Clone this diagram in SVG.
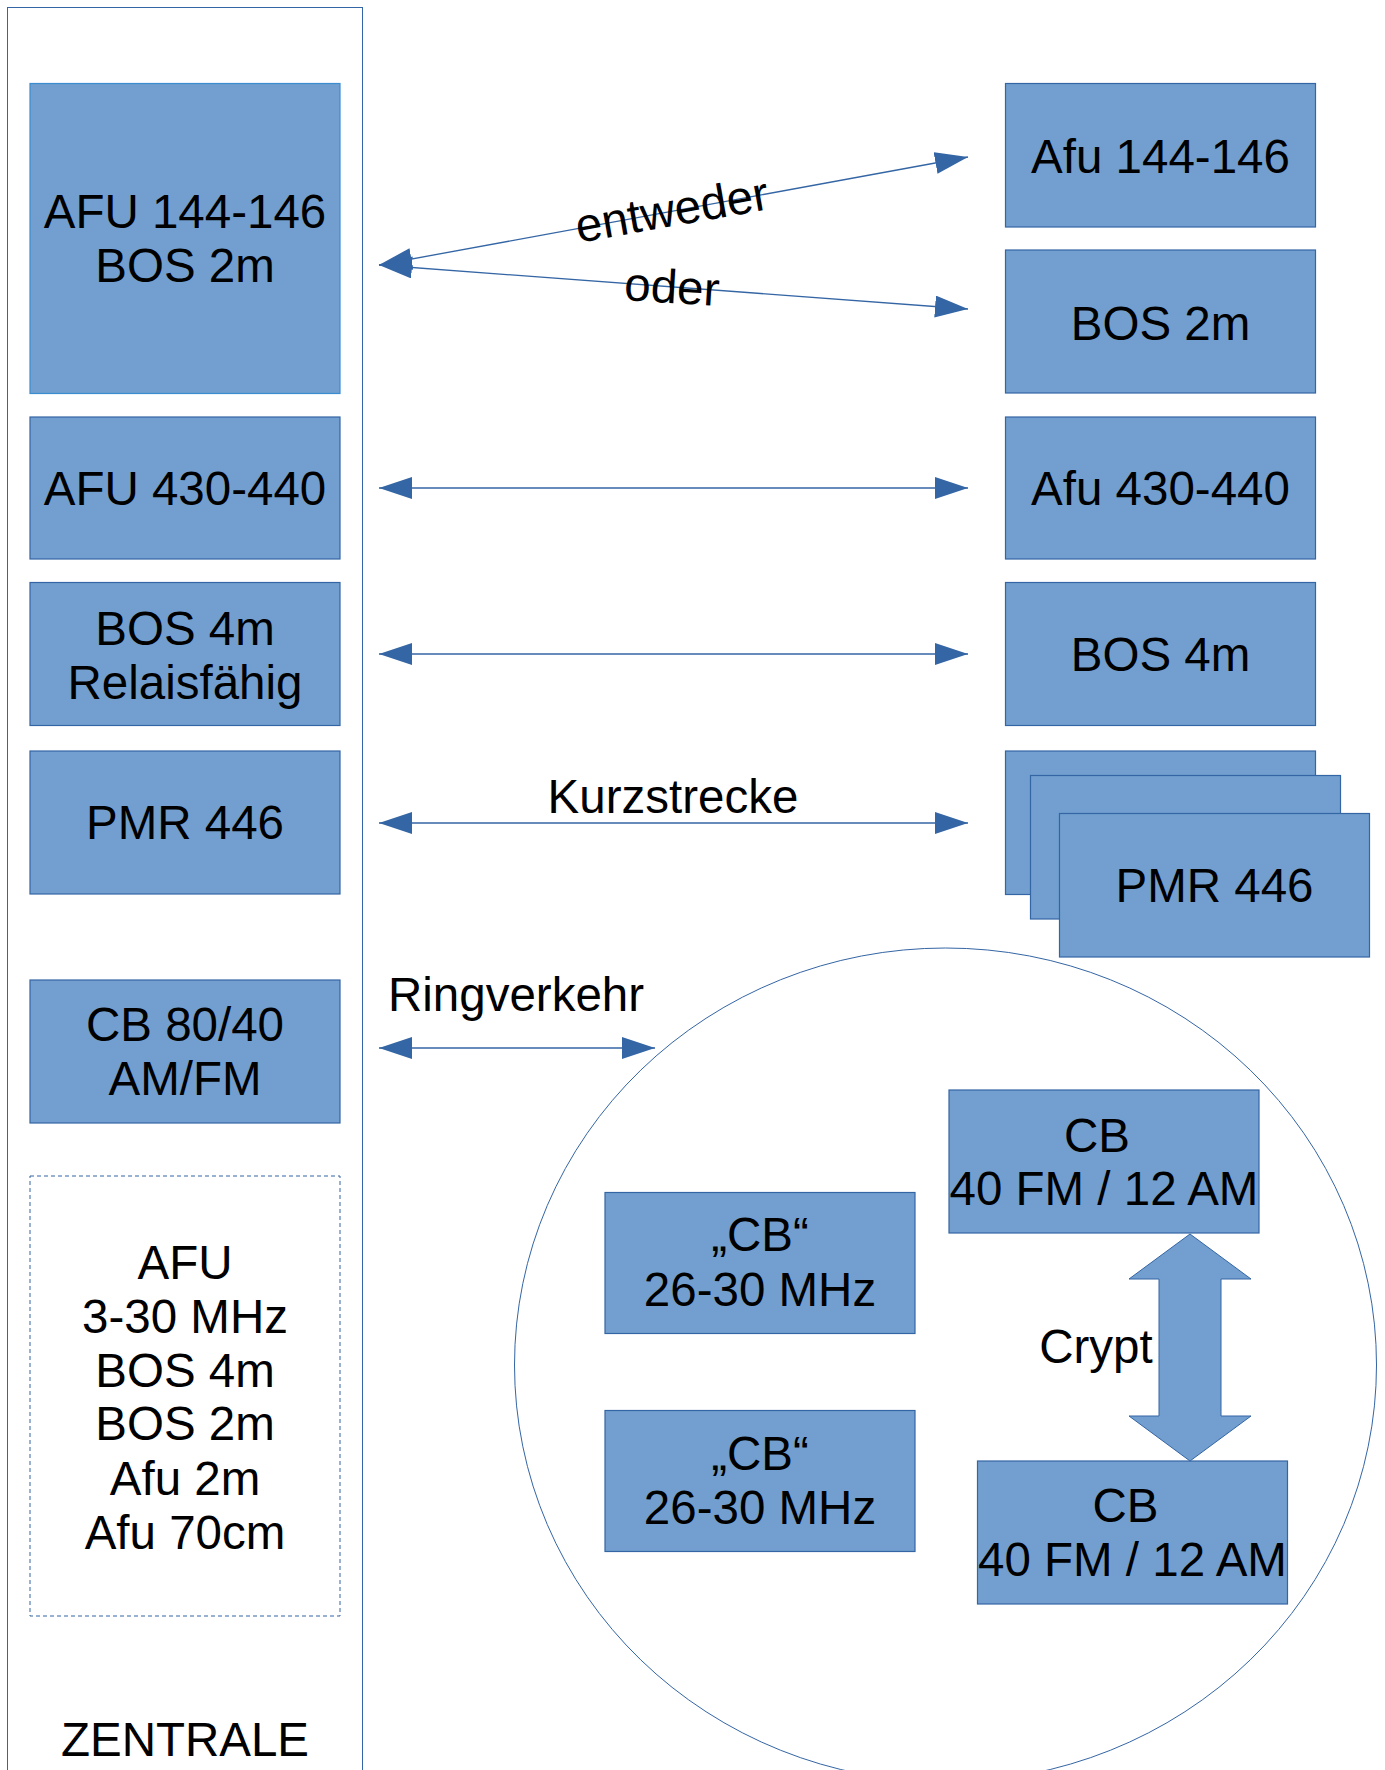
<svg xmlns="http://www.w3.org/2000/svg" width="1385" height="1770" viewBox="0 0 1385 1770">
<style>
.box{fill:#729fcf;stroke:#3465a4;stroke-width:1.2}
.t{font-family:"Liberation Sans",Arial,sans-serif;font-size:47.5px;fill:#000;text-anchor:middle}
.c{stroke:#3465a4;stroke-width:1.3;fill:none}
.frame{fill:none;stroke:#3465a4;stroke-width:1}
</style>
<defs>
<marker id="ah" markerUnits="userSpaceOnUse" markerWidth="34" markerHeight="24" refX="33" refY="11" orient="auto-start-reverse">
<path d="M0,0 L33,11 L0,22 z" fill="#3465a4"/>
</marker>
</defs>
<rect width="1385" height="1770" fill="#fff"/>

<g id="zentrale">
<rect class="frame" x="7.5" y="7.5" width="355" height="1790"/>
<text class="t" x="185" y="1756">ZENTRALE</text>
</g>

<g id="l-afu144">
<rect class="box" x="30" y="83.5" width="310" height="310" style="stroke:#3c8dd0"/>
<text class="t" x="185" y="228">AFU 144-146</text>
<text class="t" x="185" y="282">BOS 2m</text>
</g>
<g id="l-afu430">
<rect class="box" x="30" y="417" width="310" height="142"/>
<text class="t" x="185" y="505">AFU 430-440</text>
</g>
<g id="l-bos4m">
<rect class="box" x="30" y="582.5" width="310" height="143"/>
<text class="t" x="185" y="645">BOS 4m</text>
<text class="t" x="185" y="699">Relaisfähig</text>
</g>
<g id="l-pmr">
<rect class="box" x="30" y="751" width="310" height="143"/>
<text class="t" x="185" y="839">PMR 446</text>
</g>
<g id="l-cb">
<rect class="box" x="30" y="980" width="310" height="143"/>
<text class="t" x="185" y="1041">CB 80/40</text>
<text class="t" x="185" y="1095">AM/FM</text>
</g>
<g id="l-misc">
<rect x="30" y="1176" width="310" height="440" fill="none" stroke="#3465a4" stroke-width="1" stroke-dasharray="4,3"/>
<text class="t" x="185" y="1279">AFU</text>
<text class="t" x="185" y="1333">3-30 MHz</text>
<text class="t" x="185" y="1387">BOS 4m</text>
<text class="t" x="185" y="1440">BOS 2m</text>
<text class="t" x="185" y="1495">Afu 2m</text>
<text class="t" x="185" y="1549">Afu 70cm</text>
</g>

<g id="r-afu144">
<rect class="box" x="1005.5" y="83.5" width="310" height="143.5"/>
<text class="t" x="1160.5" y="173">Afu 144-146</text>
</g>
<g id="r-bos2m">
<rect class="box" x="1005.5" y="250" width="310" height="143"/>
<text class="t" x="1160.5" y="340">BOS 2m</text>
</g>
<g id="r-afu430">
<rect class="box" x="1005.5" y="417" width="310" height="142"/>
<text class="t" x="1160.5" y="505">Afu 430-440</text>
</g>
<g id="r-bos4m">
<rect class="box" x="1005.5" y="582.5" width="310" height="143"/>
<text class="t" x="1160.5" y="671">BOS 4m</text>
</g>
<g id="r-pmr">
<rect class="box" x="1005.5" y="751" width="310" height="143.5"/>
<rect class="box" x="1030.5" y="775.5" width="310" height="143.5"/>
<rect class="box" x="1059.5" y="813.5" width="310" height="143.5"/>
<text class="t" x="1214.5" y="902">PMR 446</text>
</g>

<g id="ring">
<ellipse cx="945.5" cy="1365" rx="431" ry="417" fill="none" stroke="#3465a4" stroke-width="1"/>
</g>
<g id="cb-a">
<rect class="box" x="605" y="1192.5" width="310" height="141"/>
<text class="t" x="760" y="1251">„CB“</text>
<text class="t" x="760" y="1306">26-30 MHz</text>
</g>
<g id="cb-b">
<rect class="box" x="605" y="1410.5" width="310" height="141"/>
<text class="t" x="760" y="1470">„CB“</text>
<text class="t" x="760" y="1524">26-30 MHz</text>
</g>
<g id="cb-top">
<rect class="box" x="949" y="1090" width="310" height="143"/>
<text class="t" x="1097" y="1152">CB</text>
<text class="t" x="1104" y="1205">40 FM / 12 AM</text>
</g>
<g id="cb-bottom">
<rect class="box" x="977.5" y="1461" width="310" height="143"/>
<text class="t" x="1125.5" y="1522">CB</text>
<text class="t" x="1132.5" y="1576">40 FM / 12 AM</text>
</g>

<g id="connectors">
<line class="c" x1="379" y1="265" x2="968" y2="157" marker-start="url(#ah)" marker-end="url(#ah)"/>
<line class="c" x1="379" y1="265" x2="968" y2="309" marker-start="url(#ah)" marker-end="url(#ah)"/>
<line class="c" x1="379" y1="488" x2="968" y2="488" marker-start="url(#ah)" marker-end="url(#ah)"/>
<line class="c" x1="379" y1="654" x2="968" y2="654" marker-start="url(#ah)" marker-end="url(#ah)"/>
<line class="c" x1="379" y1="823" x2="968" y2="823" marker-start="url(#ah)" marker-end="url(#ah)"/>
<line class="c" x1="379" y1="1048" x2="655" y2="1048" marker-start="url(#ah)" marker-end="url(#ah)"/>
<polygon points="1190,1234 1251,1279 1221,1279 1221,1416 1251,1416 1190,1461 1129,1416 1159,1416 1159,1279 1129,1279" fill="#729fcf" stroke="#3465a4" stroke-width="1"/>
<text class="t" x="672" y="226" transform="rotate(-10 672 211)">entweder</text>
<text class="t" x="672" y="303" transform="rotate(3.5 672 287)">oder</text>
<text class="t" x="673" y="813">Kurzstrecke</text>
<text class="t" x="388" y="1011" style="text-anchor:start">Ringverkehr</text>
<text class="t" x="1096" y="1363">Crypt</text>
</g>
</svg>
